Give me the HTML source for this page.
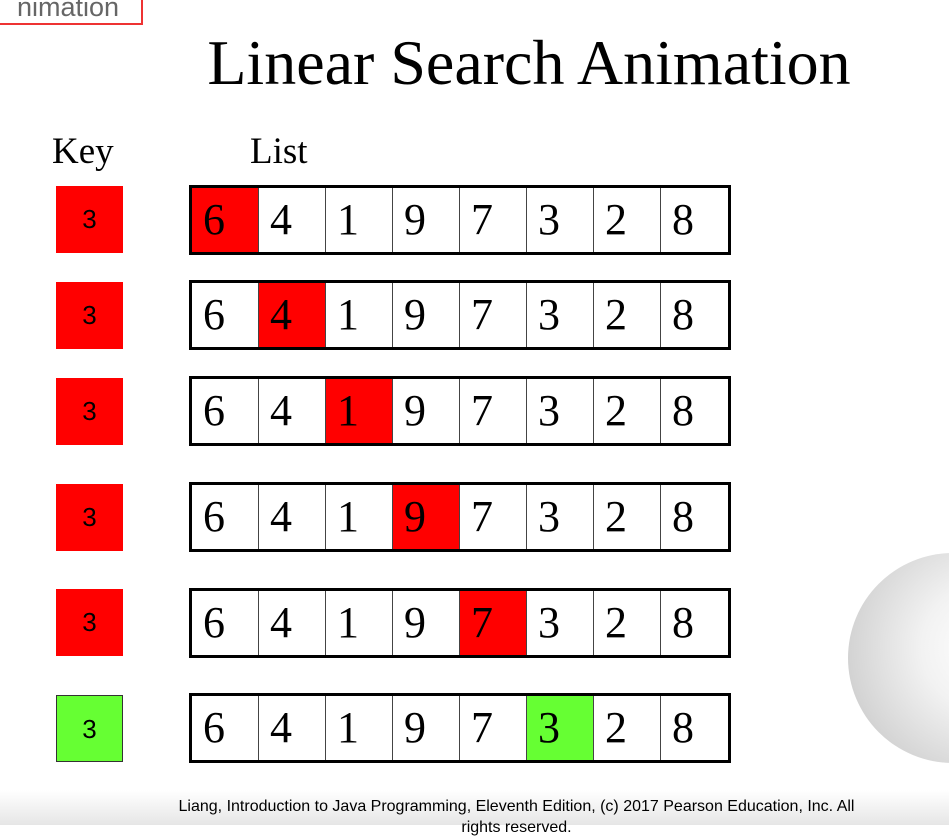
<!DOCTYPE html>
<html><head><meta charset="utf-8">
<style>
body{margin:0;width:949px;height:825px;position:relative;overflow:hidden;background:#fff;font-family:"Liberation Serif",serif;}
.a{position:absolute;}
.tab{left:-5px;top:-2px;width:148px;height:27px;border:2px solid #e33;box-sizing:border-box;font-family:"Liberation Sans",sans-serif;font-size:27px;color:#666;line-height:14px;text-align:right;padding-right:22px;overflow:hidden;}
.title{left:0;width:1058px;text-align:center;top:27px;font-size:64px;line-height:72px;}
.key{position:absolute;left:56px;width:67px;height:67px;background:#f00;font-family:"Liberation Sans",sans-serif;font-size:26px;line-height:67px;text-align:center;box-sizing:border-box;}
.row{position:absolute;left:189px;width:542px;height:70px;border:3px solid #000;box-sizing:border-box;display:flex;}
.row div{width:67.4px;height:64px;border-right:1.5px solid #444;box-sizing:border-box;font-size:44px;line-height:64px;padding-left:11px;}
.row div:last-child{border-right:none}
.r{background:#f00}.g{background:#66ff33}
</style></head><body>
<div class="a tab">nimation</div>
<div class="a title">Linear Search Animation</div>
<div class="a" style="left:52px;top:130px;font-size:37px;">Key</div>
<div class="a" style="left:250px;top:130px;font-size:37px;">List</div>

<div class="key" style="top:186px">3</div>
<div class="row" style="top:185px"><div class="r">6</div><div>4</div><div>1</div><div>9</div><div>7</div><div>3</div><div>2</div><div>8</div></div>
<div class="key" style="top:282px">3</div>
<div class="row" style="top:280px"><div>6</div><div class="r">4</div><div>1</div><div>9</div><div>7</div><div>3</div><div>2</div><div>8</div></div>
<div class="key" style="top:378px">3</div>
<div class="row" style="top:376px"><div>6</div><div>4</div><div class="r">1</div><div>9</div><div>7</div><div>3</div><div>2</div><div>8</div></div>
<div class="key" style="top:484px">3</div>
<div class="row" style="top:482px"><div>6</div><div>4</div><div>1</div><div class="r">9</div><div>7</div><div>3</div><div>2</div><div>8</div></div>
<div class="key" style="top:589px">3</div>
<div class="row" style="top:588px"><div>6</div><div>4</div><div>1</div><div>9</div><div class="r">7</div><div>3</div><div>2</div><div>8</div></div>
<div class="key" style="top:695px;background:#66ff33;border:1px solid #333">3</div>
<div class="row" style="top:693px"><div>6</div><div>4</div><div>1</div><div>9</div><div>7</div><div class="g">3</div><div>2</div><div>8</div></div>

<div class="a" style="left:848px;top:553px;width:210px;height:210px;border-radius:50%;background:radial-gradient(circle at 65% 45%,#fff 0%,#f2f2f2 35%,#d4d4d4 75%,#bbb 100%);"></div>
<div class="a" style="left:905px;top:790px;width:80px;height:20px;border-radius:50%;background:#ccc;"></div>
<div class="a" style="left:0;top:790px;width:949px;height:35px;background:linear-gradient(#fff,#e6e6e6);"></div>
<div class="a" style="left:0;width:1033px;top:796px;text-align:center;font-family:'Liberation Sans',sans-serif;font-size:16px;line-height:21px;">Liang, Introduction to Java Programming, Eleventh Edition, (c) 2017 Pearson Education, Inc. All<br>rights reserved.</div>
</body></html>
